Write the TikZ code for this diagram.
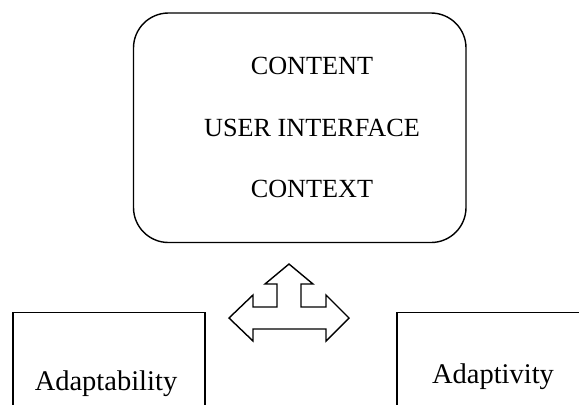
\documentclass[tikz,border=0pt]{standalone}
\usepackage{fontspec}
\setmainfont{Liberation Serif}
\usepackage{tikz}
\usetikzlibrary{positioning}

\begin{document}
\begin{tikzpicture}[
  x=0.5pt, y=-0.5pt,
  line width=0.7pt,
  panel/.style={rectangle, rounded corners=17.5pt, draw=black, inner sep=0pt,
                minimum width=166.25pt, minimum height=114.75pt},
  mode/.style={rectangle, draw=black, inner sep=0pt, anchor=north,
               minimum width=96pt, minimum height=100pt},
  layer/.style={anchor=base, font=\fontsize{13.1}{15}\selectfont},
  modetext/.style={anchor=base, font=\fontsize{14.25}{17}\selectfont}
]
\useasboundingbox (0,0) rectangle (579,404);
\clip (0,0) rectangle (579,404);

% --- Layers ---
\node[panel]                                        (PANEL)   at (299.75,127.75) {};
\node[layer] at ([xshift=6.1pt, yshift=-31pt]PANEL.north)    (CONTENT) {CONTENT};
\node[layer] at ([yshift=-30.85pt]CONTENT.base)     (UI)      {USER INTERFACE};
\node[layer] at ([yshift=-30.85pt]UI.base)          (CONTEXT) {CONTEXT};

% --- Modes ---
\node[mode]                                         (ADAPTB)  at (109,312) {};
\node[mode]                                         (ADAPTV)  at (493,312) {};
\node[modetext] at ([xshift=-1.5pt, yshift=-39pt]ADAPTB.north) (ADAPTBL) {Adaptability};
\node[modetext] at ([yshift=-35.5pt]ADAPTV.north)   (ADAPTVL) {Adaptivity};

% --- Three way arrow ---
\coordinate (HUB) at (289,318);
\draw[line join=miter] (HUB) ++(-60,0) -- ++(24,-23) -- ++(0,12) -- ++(24,0) -- ++(0,-23)
  -- ++(-12,0) -- ++(24,-20) -- ++(24,20) -- ++(-12,0) -- ++(0,23) -- ++(25,0)
  -- ++(0,-12) -- ++(23,23) -- ++(-23,23) -- ++(0,-12) -- ++(-73,0) -- ++(0,12) -- cycle;

\end{tikzpicture}
\end{document}
